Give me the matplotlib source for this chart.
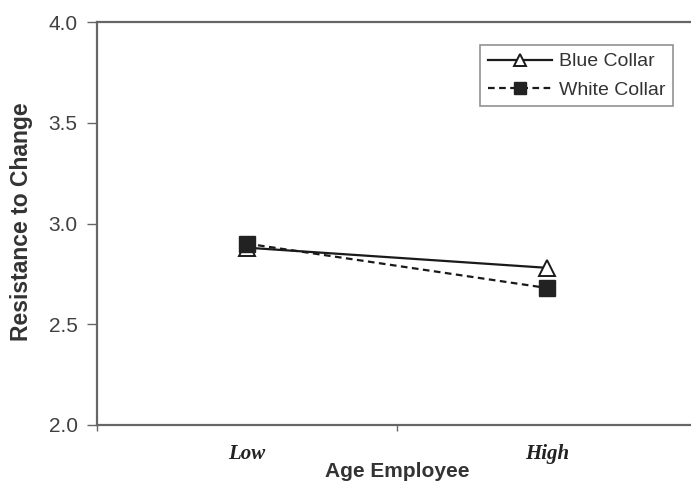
import matplotlib
matplotlib.use("Agg")
import matplotlib.pyplot as plt

# group means of resistance to change by employee age
age_levels = ["Low", "High"]
blue_collar = [2.88, 2.78]
white_collar = [2.90, 2.68]
y_ticks = [2.0, 2.5, 3.0, 3.5, 4.0]

plt.rcParams["font.family"] = ["Liberation Sans", "DejaVu Sans"]

fig = plt.figure(figsize=(6.91, 4.88), dpi=100)
ax = fig.add_axes([97 / 691, 63 / 488, 600 / 691, 403 / 488])

xpos = [0.5, 1.5]
ax.plot(xpos, blue_collar, color="#1a1a1a", lw=1.6, marker="^", ms=11,
        mfc="white", mec="#1a1a1a", mew=1.4, label="Blue Collar", zorder=3)
ax.plot(xpos, white_collar, color="#1a1a1a", lw=1.6, ls=(0, (3, 2)), marker="s",
        ms=11, mfc="#222222", mec="#222222", label="White Collar", zorder=3)

ax.set_xlim(0, 2)
ax.set_ylim(2.0, 4.0)
ax.set_yticks(y_ticks)
ax.set_yticklabels([f"{v:.1f}" for v in y_ticks])

ax.set_xticks([0, 1, 2])
ax.set_xticklabels([])
ax.set_xticks(xpos, minor=True)
ax.set_xticklabels(age_levels, minor=True, fontfamily="Liberation Serif",
                   fontstyle="italic", fontweight="bold", fontsize=15, color="#222222")
ax.tick_params(axis="x", which="minor", length=0, pad=14)
ax.tick_params(axis="x", which="major", length=4, width=1, color="#666666", direction="out")
ax.tick_params(axis="y", length=7, width=1, color="#666666", labelsize=15,
               labelcolor="#404040", pad=7)

for side in ["left", "bottom", "top"]:
    ax.spines[side].set_color("#666666")
    ax.spines[side].set_linewidth(1.6)
ax.spines["right"].set_visible(False)

ax.set_xlabel("Age Employee", fontsize=15, fontweight="bold", color="#333333", labelpad=-2)
ax.set_ylabel("Resistance to Change", fontsize=16.5, fontweight="bold", color="#333333")
ax.yaxis.set_label_coords(-0.107, 0.505)

leg = ax.legend(loc="upper right", bbox_to_anchor=(673 / 691, 1 - 45 / 488),
                bbox_transform=fig.transFigure, borderaxespad=0, fontsize=14,
                frameon=True, fancybox=False, handlelength=3.3, handletextpad=0.35,
                borderpad=0.4, labelspacing=0.55, labelcolor="#333333")
leg.get_frame().set_edgecolor("#777777")
leg.get_frame().set_linewidth(1.2)
for h in leg.legend_handles:
    h.set_markersize(8)

fig.savefig("out.png", dpi=100)
